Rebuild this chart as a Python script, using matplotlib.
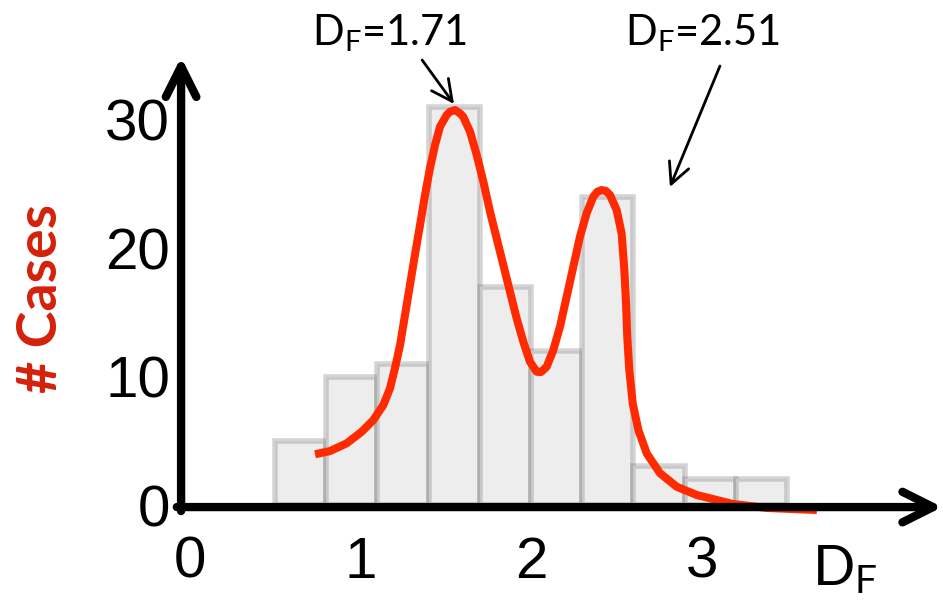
import matplotlib
matplotlib.use("Agg")
import matplotlib.pyplot as plt

plt.rcParams['font.family'] = ['Liberation Sans', 'DejaVu Sans']

# histogram of D_F values
bin_left = [0.5, 0.8, 1.1, 1.4, 1.7, 2.0, 2.3, 2.6, 2.9, 3.2]
counts = [5, 10, 11, 31, 17, 12, 24, 3, 2, 2]
bin_width = 0.3

# fitted density curve (scaled to counts)
curve_x = [0.735, 0.823, 0.920, 1.008, 1.076, 1.135, 1.174, 1.203, 1.233, 1.262,
           1.291, 1.320, 1.350, 1.379, 1.408, 1.438, 1.467, 1.506, 1.526, 1.555,
           1.584, 1.603, 1.643, 1.682, 1.721, 1.760, 1.799, 1.838, 1.877, 1.916,
           1.955, 1.994, 2.033, 2.059, 2.092, 2.131, 2.170, 2.209, 2.248, 2.287,
           2.326, 2.365, 2.389, 2.414, 2.439, 2.463, 2.502, 2.531, 2.547, 2.557,
           2.564, 2.576, 2.596, 2.629, 2.678, 2.756, 2.854, 2.971, 3.183, 3.382,
           3.675]
curve_y = [3.95, 4.20, 4.80, 5.70, 6.61, 7.78, 9.08, 10.64, 12.45, 14.79,
           17.12, 19.46, 21.79, 24.12, 26.20, 28.02, 29.44, 30.35, 30.61, 30.74,
           30.48, 30.22, 29.05, 27.24, 25.16, 22.83, 20.75, 18.68, 16.60, 14.53,
           12.71, 11.15, 10.37, 10.35, 10.76, 12.06, 13.88, 16.21, 18.54, 20.88,
           22.70, 23.99, 24.38, 24.51, 24.44, 24.12, 22.96, 21.14, 18.29, 15.70,
           13.10, 10.51, 7.91, 5.84, 4.02, 2.47, 1.42, 0.78, 0.08, -0.23,
           -0.39]

xticks = [0, 1, 2, 3]
yticks = [0, 10, 20, 30]
peak_labels = [r'$\mathregular{D_F}$=1.71', r'$\mathregular{D_F}$=2.51']

fig = plt.figure(figsize=(9.43, 6.01), dpi=100)
ax = fig.add_axes([0, 0, 1, 1])
ax.set_xlim(-1.111, 4.414)
ax.set_ylim(-7.47, 39.30)
ax.axis('off')

ax.bar(bin_left, counts, width=bin_width, align='edge', color='#EDEDED',
       edgecolor=(0.45, 0.45, 0.45, 0.3), linewidth=4, zorder=1)

ax.plot(curve_x, curve_y, color='#FF2A00', lw=5.8, solid_capstyle='butt',
        solid_joinstyle='round', zorder=3)

# axes with arrow heads
ax_style = dict(arrowstyle='->,head_length=2.2,head_width=1.1', lw=6,
                color='black', shrinkA=0, shrinkB=0, mutation_scale=10)
ax.annotate('', xy=(4.41, -0.16), xytext=(-0.075, -0.16),
            arrowprops=ax_style, zorder=4)
ax.annotate('', xy=(-0.05, 34.86), xytext=(-0.05, -0.47),
            arrowprops=ax_style, zorder=4)

for t in yticks:
    ax.text(-0.115, t - 1.65, str(t), ha='right', va='baseline', fontsize=42)
for t in xticks:
    ax.text(t, -5.68, str(t), ha='center', va='baseline', fontsize=42)

ax.text(3.646, -6.23, r'$\mathregular{D_F}$', ha='left', va='baseline',
        fontsize=40, family='Lato')
ax.text(-0.871, 16.1, '# Cases', rotation=90, ha='center', va='center',
        fontsize=40, fontweight='bold', color='#D4210A', family='Lato')

# peak annotations
arr = dict(arrowstyle='->,head_length=1.5,head_width=0.75', lw=2,
           color='black', shrinkA=0, shrinkB=0, mutation_scale=10)
ax.text(1.174, 35.8, peak_labels[0], ha='center', va='baseline',
        fontsize=30, family='Lato')
ax.annotate('', xy=(1.549, 31.21), xytext=(1.362, 34.63), arrowprops=arr)
ax.text(3.005, 35.8, peak_labels[1], ha='center', va='baseline',
        fontsize=30, family='Lato')
ax.annotate('', xy=(2.814, 24.75), xytext=(3.107, 34.16), arrowprops=arr)

fig.savefig('out.png', dpi=100)
